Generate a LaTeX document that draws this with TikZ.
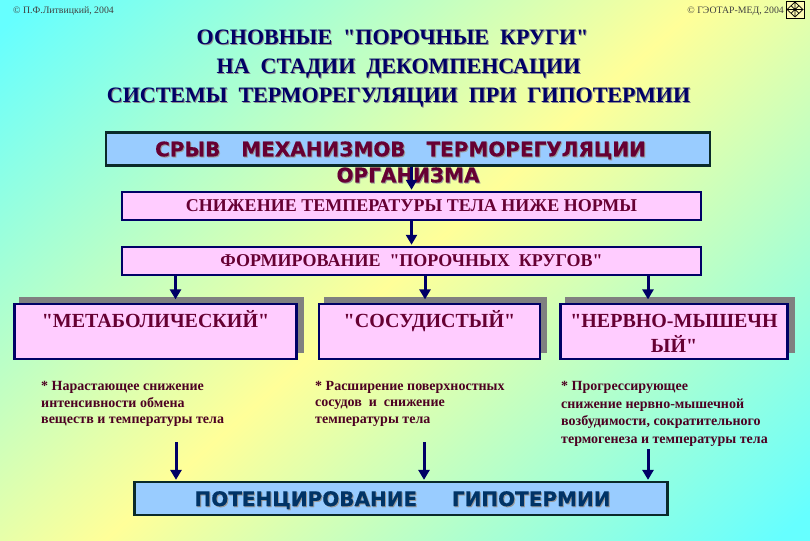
\documentclass[tikz,border=0pt]{standalone}
\usepackage{fontspec}
\defaultfontfeatures[\rmfamily]{}
\setmainfont{Liberation Serif}
\newfontfamily\headsans{DejaVu Sans}[BoldFeatures={FakeBold=0.5}]
\usetikzlibrary{shadows,arrows.meta,shapes.geometric}
\definecolor{bgcyan}{HTML}{66FFFF}
\definecolor{bgyellow}{HTML}{FFFF99}
\definecolor{boxblue}{HTML}{99CCFF}
\definecolor{boxpink}{HTML}{FFCCFF}
\definecolor{navy}{HTML}{000066}
\definecolor{wine}{HTML}{660033}
\definecolor{winedark}{HTML}{4D0022}
\definecolor{potblue}{HTML}{003366}
\definecolor{edgedark}{HTML}{0A2A2A}
\pgfdeclareverticalshading{bgdiag}{100bp}{
 color(0bp)=(bgcyan); color(27.5bp)=(bgcyan); color(50bp)=(bgyellow); color(72.5bp)=(bgcyan); color(100bp)=(bgcyan)}
\newcommand{\sz}[1]{\fontsize{#1}{#1}\selectfont}
\newcommand{\shtxt}[2]{\leavevmode\rlap{\raisebox{-1pt}{\hspace{1pt}\textcolor{#1}{#2}}}#2}
\tikzset{
 x=1pt,y=-1pt,
 titleline/.style={inner sep=0pt,anchor=base,text=navy,font=\bfseries\sz{22}},
 bluebox/.style={draw=edgedark,line width=2.2pt,fill=boxblue,inner sep=0pt,minimum height=33pt},
 pinkbar/.style={draw=navy,line width=2pt,fill=boxpink,inner sep=0pt,minimum width=579pt,minimum height=28.5pt,text=wine,font=\bfseries\sz{18}},
 kindbox/.style={draw=navy,line width=2.2pt,fill=boxpink,inner sep=0pt,minimum height=55pt,
   drop shadow={shadow xshift=6pt,shadow yshift=6.5pt,shadow scale=1.01,opacity=1,fill=black!50}},
 kindtext/.style={inner sep=0pt,text=wine,font=\bfseries\sz{20},align=center},
 note/.style={inner sep=0pt,anchor=north west,align=left,text=winedark,font=\bfseries\sz{14}},
 flow/.style={draw=navy,line width=3pt,-{Triangle[length=10pt,width=11pt]},shorten >=1pt},
 credit/.style={inner sep=0pt,text=black!75,font=\sz{9.8}},
}
\begin{document}
\begin{tikzpicture}
\useasboundingbox (0,0) rectangle (810,540);
\begin{scope}
 \clip (0,0) rectangle (810,540);
 \shade[shading=bgdiag,shading angle=42] (-95,-230) rectangle (905,770);
\end{scope}

\node[credit,anchor=west] (c1) at (13,11) {© П.Ф.Литвицкий, 2004};
\node[credit,anchor=east] (c2) at (784,11) {© ГЭОТАР-МЕД, 2004};
\fill[white!70!yellow] (786,1) rectangle (804,18);
\draw[black,line width=.5pt] (786,1) rectangle (804,18);
\draw[black,line width=.7pt] (795,2) -- (803,9.5) -- (795,17) -- (787,9.5) -- cycle (791,5.7) -- (799,13.3) (799,5.7) -- (791,13.3) (788,9.5) -- (802,9.5) (795,3) -- (795,16);

\node[titleline] (t1) at (392.5,45) {\shtxt{black!45}{ОСНОВНЫЕ\ \ "ПОРОЧНЫЕ\ \ КРУГИ"}};
\node[titleline] (t2) at (398.5,74) {\shtxt{black!45}{НА\ \ СТАДИИ\ \ ДЕКОМПЕНСАЦИИ}};
\node[titleline] (t3) at (398.5,103) {\shtxt{black!45}{СИСТЕМЫ\ \ ТЕРМОРЕГУЛЯЦИИ\ \ ПРИ\ \ ГИПОТЕРМИИ}};

\node[bluebox,minimum width=604pt] (top) at (408,149) {};
\node[pinkbar] (low) at (411.5,206) {СНИЖЕНИЕ ТЕМПЕРАТУРЫ ТЕЛА НИЖЕ НОРМЫ};
\node[pinkbar] (form) at (411.5,261) {ФОРМИРОВАНИЕ\ \ "ПОРОЧНЫХ\ \ КРУГОВ"};

\node[kindbox,minimum width=282pt] (met) at (155.5,331.5) {};
\node[kindbox,minimum width=221pt] (vas) at (429.5,331.5) {};
\node[kindbox,minimum width=227pt] (ner) at (674,331.5) {};
\node[kindtext,anchor=base] (mett) at (155.5,327) {"МЕТАБОЛИЧЕСКИЙ"};
\node[kindtext,anchor=base] (vast) at (429.5,327) {"СОСУДИСТЫЙ"};
\node[kindtext,anchor=north] (nert) at (674,314.5) {"НЕРВНО-МЫШЕЧН\\[5pt]ЫЙ"};

\node[bluebox,minimum width=533pt] (pot) at (401,498.5) {};

\node[inner sep=0pt,align=center,font=\headsans\bfseries\sz{20},text=wine] (topt) at (408,162.5) {\shtxt{black!40}{СРЫВ\ \ \ МЕХАНИЗМОВ\ \ \ ТЕРМОРЕГУЛЯЦИИ}\hspace*{15pt}\\[6pt]\shtxt{black!40}{ОРГАНИЗМА}};
\node[inner sep=0pt,anchor=base,font=\headsans\bfseries\sz{20},text=potblue] (pott) at (402.5,506) {\shtxt{black!40}{ПОТЕНЦИРОВАНИЕ\ \ \ \ \ ГИПОТЕРМИИ}};

\coordinate (u) at (411.5,0);
\coordinate (a1) at (175.5,0);
\coordinate (a2) at (425,0);
\coordinate (a3) at (648,0);
\coordinate (b1) at (176,442);
\coordinate (b2) at (424,442);
\coordinate (b3) at (648,449);

\draw[flow] (u |- top.south) -- (u |- low.north);
\draw[flow] (u |- low.south) -- (u |- form.north);
\draw[flow,shorten >=3.5pt] (a1 |- form.south) -- (a1 |- met.north);
\draw[flow,shorten >=3.5pt] (a2 |- form.south) -- (a2 |- vas.north);
\draw[flow,shorten >=3.5pt] (a3 |- form.south) -- (a3 |- ner.north);
\draw[flow] (b1) -- (b1 |- pot.north);
\draw[flow] (b2) -- (b2 |- pot.north);
\draw[flow] (b3) -- (b3 |- pot.north);

\node[note] (n1) at (41,381) {* Нарастающее снижение\\[2.6pt]интенсивности обмена\\[2.6pt]веществ и температуры тела};
\node[note] (n2) at (315,381) {* Расширение поверхностных\\[2.5pt]сосудов\ \ и\ \ снижение\\[2.5pt]температуры тела};
\node[note] (n3) at (561,381.5) {* Прогрессирующее\\[3.4pt]снижение нервно-мышечной\\[3.4pt]возбудимости, сократительного\\[3.4pt]термогенеза и температуры тела};
\end{tikzpicture}
\end{document}
